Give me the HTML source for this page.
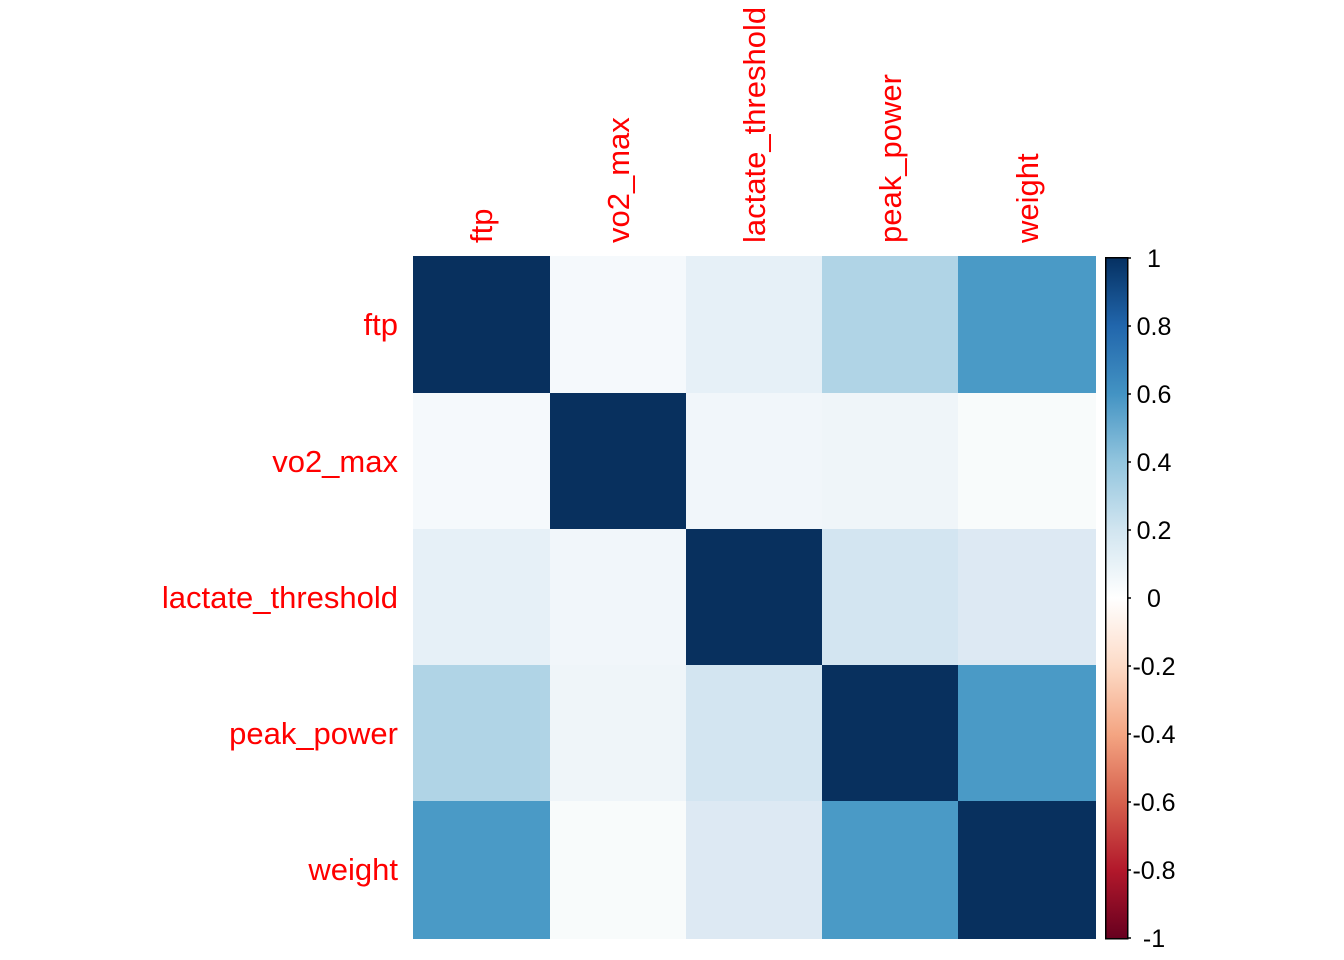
<!DOCTYPE html>
<html><head><meta charset="utf-8"><style>html,body{margin:0;padding:0;background:#fff}svg{display:block}</style></head>
<body>
<svg width="1344" height="960" viewBox="0 0 1344 960" xmlns="http://www.w3.org/2000/svg" font-family="Liberation Sans, Arial, sans-serif">
<defs>
<linearGradient id="g" x1="0" y1="1" x2="0" y2="0">
<stop offset="0" stop-color="#67001F"/><stop offset="0.1" stop-color="#B2182B"/><stop offset="0.2" stop-color="#D6604D"/><stop offset="0.3" stop-color="#F4A582"/><stop offset="0.4" stop-color="#FDDBC7"/><stop offset="0.5" stop-color="#FFFFFF"/><stop offset="0.6" stop-color="#D1E5F0"/><stop offset="0.7" stop-color="#92C5DE"/><stop offset="0.8" stop-color="#4393C3"/><stop offset="0.9" stop-color="#2166AC"/><stop offset="1" stop-color="#053061"/>
</linearGradient>
</defs>
<g shape-rendering="crispEdges">
<rect x="413" y="256" width="137" height="137" fill="#08305e"/>
<rect x="550" y="256" width="136" height="137" fill="#f5f9fc"/>
<rect x="686" y="256" width="136" height="137" fill="#e6f0f7"/>
<rect x="822" y="256" width="136" height="137" fill="#b0d4e6"/>
<rect x="958" y="256" width="138" height="137" fill="#4a9ac6"/>
<rect x="413" y="393" width="137" height="136" fill="#f5f9fc"/>
<rect x="550" y="393" width="136" height="136" fill="#08305e"/>
<rect x="686" y="393" width="136" height="136" fill="#f1f6fa"/>
<rect x="822" y="393" width="136" height="136" fill="#eff5f9"/>
<rect x="958" y="393" width="138" height="136" fill="#f8fbfb"/>
<rect x="413" y="529" width="137" height="136" fill="#e6f0f7"/>
<rect x="550" y="529" width="136" height="136" fill="#f1f6fa"/>
<rect x="686" y="529" width="136" height="136" fill="#08305e"/>
<rect x="822" y="529" width="136" height="136" fill="#d3e5f1"/>
<rect x="958" y="529" width="138" height="136" fill="#dde9f3"/>
<rect x="413" y="665" width="137" height="136" fill="#b0d4e6"/>
<rect x="550" y="665" width="136" height="136" fill="#eff5f9"/>
<rect x="686" y="665" width="136" height="136" fill="#d3e5f1"/>
<rect x="822" y="665" width="136" height="136" fill="#08305e"/>
<rect x="958" y="665" width="138" height="136" fill="#4a9ac6"/>
<rect x="413" y="801" width="137" height="138" fill="#4a9ac6"/>
<rect x="550" y="801" width="136" height="138" fill="#f8fbfb"/>
<rect x="686" y="801" width="136" height="138" fill="#dde9f3"/>
<rect x="822" y="801" width="136" height="138" fill="#4a9ac6"/>
<rect x="958" y="801" width="138" height="138" fill="#08305e"/>
<rect x="1105.5" y="257.5" width="22" height="681" fill="url(#g)" stroke="#000" stroke-width="1.5"/>
</g>
<g stroke="#000" stroke-width="1.5">
<line x1="1127" y1="258" x2="1131" y2="258"/><line x1="1127" y1="326" x2="1131" y2="326"/><line x1="1127" y1="394" x2="1131" y2="394"/><line x1="1127" y1="462" x2="1131" y2="462"/><line x1="1127" y1="530" x2="1131" y2="530"/><line x1="1127" y1="598" x2="1131" y2="598"/><line x1="1127" y1="666" x2="1131" y2="666"/><line x1="1127" y1="734" x2="1131" y2="734"/><line x1="1127" y1="802" x2="1131" y2="802"/><line x1="1127" y1="870" x2="1131" y2="870"/><line x1="1127" y1="938" x2="1131" y2="938"/>
</g>
<g font-size="25" fill="#000" text-anchor="middle">
<text x="1154" y="267">1</text><text x="1154" y="335">0.8</text><text x="1154" y="403">0.6</text><text x="1154" y="471">0.4</text><text x="1154" y="539">0.2</text><text x="1154" y="607">0</text><text x="1154" y="675">-0.2</text><text x="1154" y="743">-0.4</text><text x="1154" y="811">-0.6</text><text x="1154" y="879">-0.8</text><text x="1154" y="947">-1</text>
</g>
<g font-size="31" fill="#ff0000" text-anchor="end">
<text x="398" y="335">ftp</text>
<text x="398" y="472">vo2_max</text>
<text x="398" y="608">lactate_threshold</text>
<text x="398" y="744">peak_power</text>
<text x="398" y="880">weight</text>
</g>
<g font-size="31" fill="#ff0000">
<text transform="translate(492,243) rotate(-90)">ftp</text>
<text transform="translate(629,243) rotate(-90)">vo2_max</text>
<text transform="translate(765,243) rotate(-90)">lactate_threshold</text>
<text transform="translate(901,243) rotate(-90)">peak_power</text>
<text transform="translate(1038,243) rotate(-90)">weight</text>
</g>
</svg>
</body></html>
